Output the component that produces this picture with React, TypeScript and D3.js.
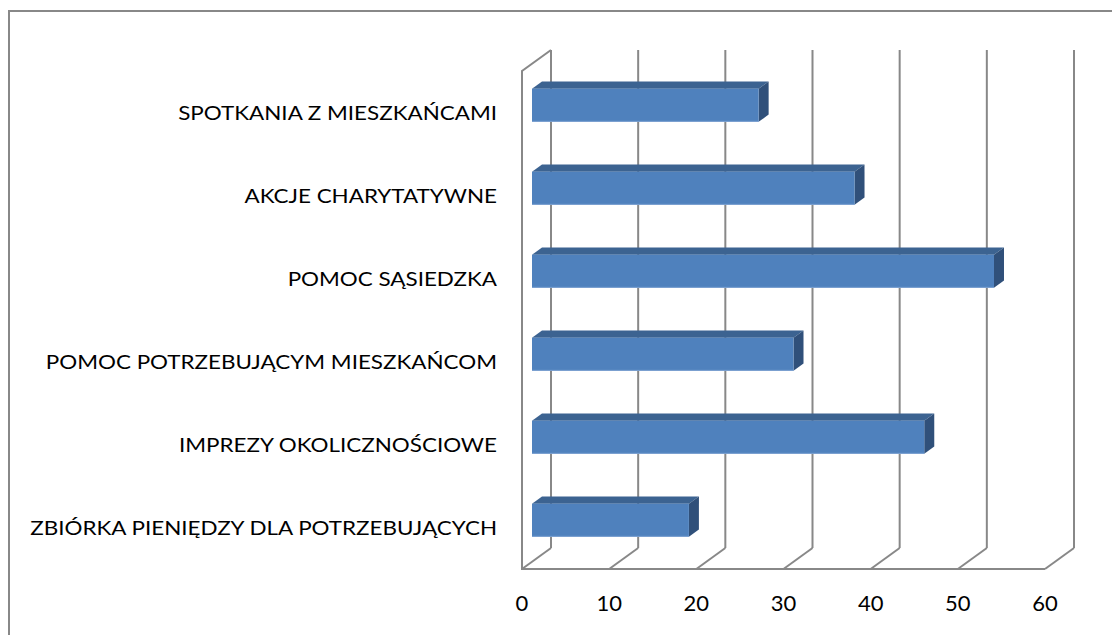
import { useEffect, useRef } from "react";
import * as d3 from "d3";

// categories listed top to bottom, as in the picture
const categories = [
  "SPOTKANIA Z MIESZKAŃCAMI",
  "AKCJE CHARYTATYWNE",
  "POMOC SĄSIEDZKA",
  "POMOC POTRZEBUJĄCYM MIESZKAŃCOM",
  "IMPREZY OKOLICZNOŚCIOWE",
  "ZBIÓRKA PIENIĘDZY DLA POTRZEBUJĄCYCH",
];
const values = [26, 37, 53, 30, 45, 18];
const ticks = [0, 10, 20, 30, 40, 50, 60];

const width = 1112;
const height = 635;

// front plane of the 3d box
const plot = { left: 522, right: 1045, top: 71, bottom: 569 };
// depth offset from front plane to back wall
const depth = { dx: 29, dy: -21 };
// bar sits between these fractions of the depth
const barFront = 0.345;
const barBack = 0.69;

const gridColor = "#888888";
const faceColor = "#4F81BD";
const topColor = "#3C6391";
const sideColor = "#30507A";

export default function App() {
  const ref = useRef<SVGSVGElement>(null);

  useEffect(() => {
    const svg = d3.select(ref.current);
    svg.selectAll("*").remove();

    const x = d3.scaleLinear().domain([0, 60]).range([plot.left, plot.right]);
    const y = d3
      .scaleBand<string>()
      .domain(categories)
      .range([plot.top, plot.bottom])
      .paddingInner(0.6)
      .paddingOuter(0.3);

    // outer chart border (runs off the right and bottom of the picture)
    svg
      .append("rect")
      .attr("x", 9)
      .attr("y", 11)
      .attr("width", 1200)
      .attr("height", 700)
      .attr("fill", "none")
      .attr("stroke", gridColor)
      .attr("stroke-width", 2);

    const grid = svg.append("g").attr("stroke", gridColor).attr("stroke-width", 2).attr("fill", "none");

    // back wall gridlines
    grid
      .selectAll("line.back")
      .data(ticks)
      .join("line")
      .attr("class", "back")
      .attr("x1", (d) => x(d) + depth.dx)
      .attr("x2", (d) => x(d) + depth.dx)
      .attr("y1", plot.top + depth.dy)
      .attr("y2", plot.bottom + depth.dy);

    // floor diagonals
    grid
      .selectAll("line.floor")
      .data(ticks)
      .join("line")
      .attr("class", "floor")
      .attr("x1", (d) => x(d))
      .attr("x2", (d) => x(d) + depth.dx)
      .attr("y1", plot.bottom)
      .attr("y2", plot.bottom + depth.dy);

    // floor front edge + left wall
    grid
      .append("path")
      .attr(
        "d",
        `M${x(60)},${plot.bottom}H${x(0)}V${plot.top}L${x(0) + depth.dx},${plot.top + depth.dy}`
      );

    // bars
    const bars = svg
      .append("g")
      .selectAll("g")
      .data(categories.map((c, i) => ({ c, v: values[i] })))
      .join("g");

    const fx = depth.dx * barFront;
    const fy = depth.dy * barFront;
    const bx = depth.dx * barBack;
    const by = depth.dy * barBack;

    bars
      .append("path")
      .attr("fill", topColor)
      .attr("d", (d) => {
        const yy = y(d.c)! + fy;
        const x0 = x(0) + fx;
        const x1 = x(d.v) + fx;
        return `M${x0},${yy}L${x0 + bx - fx},${yy + by - fy}H${x1 + bx - fx}L${x1},${yy}Z`;
      });

    bars
      .append("path")
      .attr("fill", sideColor)
      .attr("d", (d) => {
        const yy = y(d.c)! + fy;
        const x1 = x(d.v) + fx;
        const h = y.bandwidth();
        return `M${x1},${yy}L${x1 + bx - fx},${yy + by - fy}V${yy + by - fy + h}L${x1},${yy + h}Z`;
      });

    bars
      .append("rect")
      .attr("fill", faceColor)
      .attr("x", x(0) + fx)
      .attr("y", (d) => y(d.c)! + fy)
      .attr("width", (d) => x(d.v) - x(0))
      .attr("height", y.bandwidth());

    bars
      .append("line")
      .attr("stroke", "#7FA3D3")
      .attr("stroke-width", 1)
      .attr("x1", x(0) + fx)
      .attr("x2", (d) => x(d.v) + fx)
      .attr("y1", (d) => y(d.c)! + fy + y.bandwidth() - 0.5)
      .attr("y2", (d) => y(d.c)! + fy + y.bandwidth() - 0.5);

    // category labels - stretched a bit sideways like the original's font
    svg
      .append("g")
      .selectAll("text")
      .data(categories)
      .join("text")
      .attr("transform", (d) => `translate(497,${y(d)! + y.bandwidth() / 2 + 1}) scale(1.18,1)`)
      .attr("dy", "0.35em")
      .attr("text-anchor", "end")
      .attr("font-family", "Lato, sans-serif")
      .attr("font-size", 19)
      .attr("fill", "#000")
      .text((d) => d);

    // value axis labels
    svg
      .append("g")
      .selectAll("text")
      .data(ticks)
      .join("text")
      .attr("x", (d) => x(d))
      .attr("y", 611)
      .attr("text-anchor", "middle")
      .attr("font-family", "Lato, sans-serif")
      .attr("font-size", 22)
      .attr("fill", "#000")
      .text((d) => d);
  }, []);

  return (
    <svg
      ref={ref}
      width={width}
      height={height}
      style={{ position: "absolute", left: 0, top: 0, background: "#fff" }}
    />
  );
}
